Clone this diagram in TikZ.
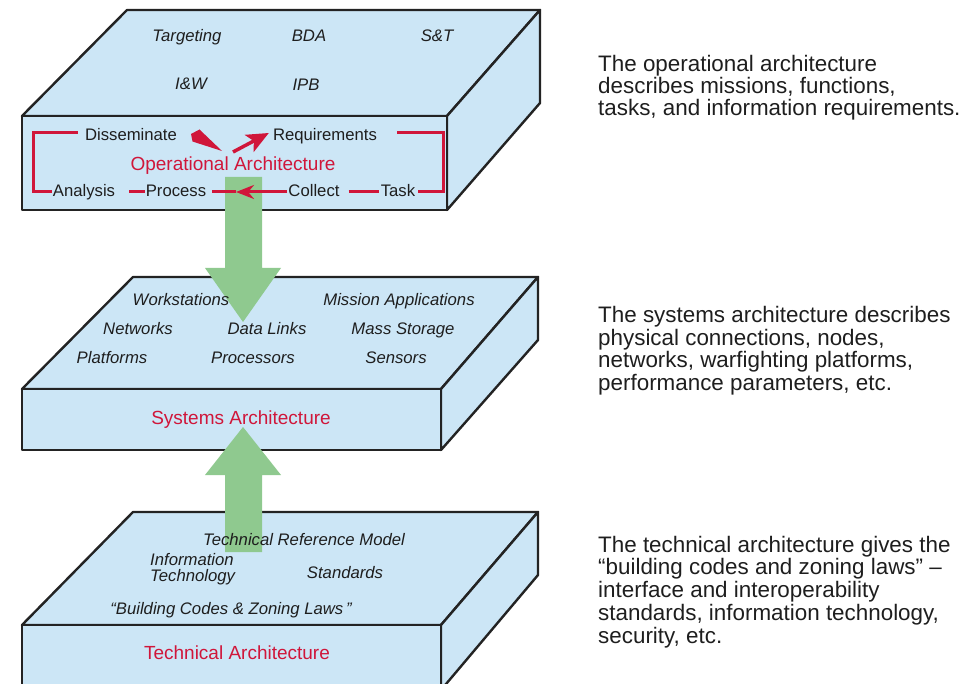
\documentclass[tikz,border=0pt]{standalone}
\usepackage{fontspec}
\setmainfont{Liberation Sans}
\usetikzlibrary{arrows.meta}

\definecolor{slabfill}{RGB}{204,230,246}
\definecolor{slabedge}{RGB}{35,35,35}
\definecolor{cyclered}{RGB}{208,22,58}
\definecolor{flowgreen}{RGB}{143,201,143}
\definecolor{inktext}{RGB}{30,30,30}

\tikzset{
  slab/.style={fill=slabfill, draw=slabedge, line width=2.4pt, line join=round},
  item/.style={font=\fontsize{16.7}{18}\selectfont\itshape, text=inktext, inner sep=0pt, anchor=base},
  stage/.style={font=\fontsize{16.7}{18}\selectfont, text=inktext, inner sep=1pt, anchor=base},
  title/.style={font=\fontsize{19}{21}\selectfont, text=cyclered, inner sep=0pt, anchor=base},
  note/.style={font=\fontsize{22.4}{22.4}\selectfont, text=inktext, inner sep=0pt, anchor=base west},
  cycle line/.style={draw=cyclered, line width=3pt, line join=miter},
  flow/.style={fill=flowgreen},
}

\begin{document}
\begin{tikzpicture}[x=1pt, y=-1pt]
\useasboundingbox (0,0) rectangle (977,684);
\clip (0,0) rectangle (977,684);

% ---- operational slab
\path[slab] (22,116) -- (127,10) -- (540,10) -- (447,116) -- cycle;
\path[slab] (447,116) -- (540,10) -- (540,103) -- (447,210) -- cycle;
\path[slab] (22,116) rectangle (447,210);

% ---- systems slab
\path[slab] (22,389) -- (133,277) -- (538,277) -- (441,389) -- cycle;
\path[slab] (441,389) -- (538,277) -- (538,340) -- (441,450) -- cycle;
\path[slab] (22,389) rectangle (441,450);

% ---- technical slab
\path[slab] (22,625) -- (133,512) -- (538,512) -- (441,625) -- cycle;
\path[slab] (441,625) -- (538,512) -- (538,575) -- (441,690) -- cycle;
\path[slab] (22,625) rectangle (441,690);

% ---- broad green flow arrows between the layers
\fill[flow] (225,177) -- (262,177) -- (262,268) -- (281,268) -- (243,322)
            -- (205,268) -- (225,268) -- cycle;
\fill[flow] (243,427) -- (281,475) -- (262,475) -- (262,552) -- (225,552)
            -- (225,475) -- (205,475) -- cycle;

% ---- operational layer: labels and intelligence cycle
\node[item] (targeting) at (187,42) {Targeting};
\node[item] (bda) at (309,42) {BDA};
\node[item] (st) at (437,42) {S\&T};
\node[item] (iw) at (191,90) {I\&W};
\node[item] (ipb) at (306,91) {IPB};

\node[stage] (dissem) at (131,141) {Disseminate};
\node[stage] (req) at (325,141) {Requirements};
\node[title] (optitle) at (233,171) {Operational Architecture};
\node[stage] (analysis) at (84,197) {Analysis};
\node[stage] (process) at (176,197) {Process};
\node[stage] (collect) at (314,197) {Collect};
\node[stage] (task) at (398,197) {Task};

\coordinate (lt) at (33,133);
\coordinate (lb) at (33,192);
\coordinate (rt) at (443,133);
\coordinate (rb) at (443,192);
\coordinate (midtip) at (236,192);
\coordinate (hubL) at (222,151);
\coordinate (hubR) at (233,152);

\draw[cycle line] ([xshift=-6pt]dissem.west |- lt) -- (lt) -- (lb) -- (analysis.west |- lb);
\draw[cycle line] ([xshift=13pt]analysis.east |- lb) -- (process.west |- lb);
\draw[cycle line, -{Stealth[length=18pt, width=14pt]}] (collect.west |- lb) -- (midtip);
\draw[cycle line] (midtip) -- ([xshift=5pt]process.east |- lb);
\draw[cycle line] ([xshift=8pt]collect.east |- lb) -- ([xshift=-1pt]task.west |- lb);
\draw[cycle line] ([xshift=2pt]task.east |- rb) -- (rb) -- (rt) -- ([xshift=19pt]req.east |- rt);

% tapered stroke from Disseminate and arrow on to Requirements
\fill[cyclered] (199.5,129.5) -- (hubL) -- (192.5,141.5) -- (191,134) -- cycle;
\draw[draw=cyclered, line width=3.5pt, -{Stealth[length=22pt, width=19pt, inset=5pt]}]
  (hubR) -- ([xshift=-3pt]req.west |- lt);

% ---- systems layer
\node[item] (ws) at (181,306) {Workstations};
\node[item] (missapp) at (399,306) {Mission Applications};
\node[item] (net) at (138,335) {Networks};
\node[item] (dl) at (267,335) {Data Links};
\node[item] (ms) at (403,335) {Mass Storage};
\node[item] (plat) at (112,364) {Platforms};
\node[item] (proc) at (253,364) {Processors};
\node[item] (sens) at (396,364) {Sensors};
\node[title] (sytitle) at (241,424) {Systems Architecture};

% ---- technical layer
\node[item] (trm) at (304,545) {Technical Reference Model};
\node[item, anchor=base west] (it) at (150,565)
  {\vtop{\baselineskip=16pt \hbox{Information}\hbox{Technology}}};
\node[item] (std) at (345,578) {Standards};
\node[item] (bczl) at (231,614) {``Building Codes \& Zoning Laws\,''};
\node[title] (tetitle) at (237,659) {Technical Architecture};

% ---- explanatory notes
\node[note] (opnote) at (598,72) {\vtop{\baselineskip=22pt
  \hbox{The operational architecture}
  \hbox{describes missions, functions,}
  \hbox{tasks, and information requirements.}}};
\node[note] (synote) at (598,323) {\vtop{\baselineskip=22.4pt
  \hbox{The systems architecture describes}
  \hbox{physical connections, nodes,}
  \hbox{networks, warfighting platforms,}
  \hbox{performance parameters, etc.}}};
\node[note] (tenote) at (598,552) {\vtop{\baselineskip=22.8pt
  \hbox{The technical architecture gives the}
  \hbox{``building codes and zoning laws'' --}
  \hbox{interface and interoperability}
  \hbox{standards, information technology,}
  \hbox{security, etc.}}};
\end{tikzpicture}
\end{document}
